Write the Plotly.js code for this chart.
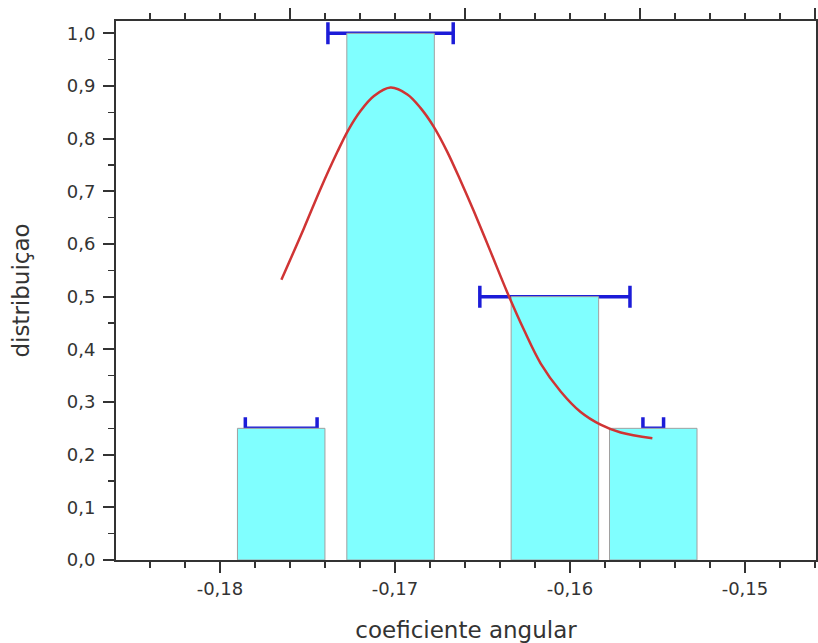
<!DOCTYPE html>
<html>
<head>
<meta charset="utf-8">
<script src="https://cdn.plot.ly/plotly-3.0.1.min.js"></script>
<style>html,body{margin:0;padding:0;background:#fff;}#chart{width:818px;height:643px;}</style>
</head>
<body>
<div id="chart"></div>
<script>
// ---- data ----
const binCenters = [-0.17650, -0.17025, -0.16086, -0.15524];
const binValues  = [0.25, 1.0, 0.5, 0.25];
const errHalfWidth = [0.00205, 0.00358, 0.00429, 0.00059];

const fitX = [-0.17649, -0.17520, -0.17425, -0.17329, -0.17269, -0.17196, -0.17120, -0.17025,
              -0.16929, -0.16853, -0.16777, -0.16701, -0.16625, -0.16549, -0.16453, -0.16358,
              -0.16263, -0.16167, -0.16053, -0.15939, -0.15825, -0.15710, -0.15529];
const fitY = [0.532, 0.630, 0.705, 0.775, 0.815, 0.853, 0.881, 0.897,
              0.884, 0.858, 0.822, 0.775, 0.720, 0.662, 0.585, 0.508,
              0.437, 0.373, 0.320, 0.281, 0.257, 0.242, 0.231];

const xTickVals = [-0.18, -0.17, -0.16, -0.15];
const xTickText = ['-0,18', '-0,17', '-0,16', '-0,15'];
const yTickVals = [0.0, 0.1, 0.2, 0.3, 0.4, 0.5, 0.6, 0.7, 0.8, 0.9, 1.0];
const yTickText = ['0,0', '0,1', '0,2', '0,3', '0,4', '0,5', '0,6', '0,7', '0,8', '0,9', '1,0'];

// ---- chart ----
const XR = [-0.18594, -0.14594];
const YR = [0, 1.0234];
const AX = '#333333';
const FONT = 'DejaVu Sans';

const traces = [
  { // error bars (drawn beneath the bars)
    type: 'scatter', mode: 'markers', xaxis: 'x', yaxis: 'y',
    x: binCenters, y: binValues,
    marker: {size: 1, opacity: 0},
    error_x: {type: 'data', array: errHalfWidth, visible: true, color: '#1c1cd8', thickness: 3.5, width: 11},
    hoverinfo: 'skip', showlegend: false
  },
  {
    type: 'bar', xaxis: 'x2', yaxis: 'y2',
    x: binCenters, y: binValues, width: 0.005,
    marker: {color: '#80ffff', line: {color: '#a0a0a0', width: 1}},
    showlegend: false
  },
  {
    type: 'scatter', mode: 'lines', xaxis: 'x2', yaxis: 'y2',
    x: fitX, y: fitY,
    line: {color: '#d03434', width: 2.5, shape: 'spline', smoothing: 1},
    showlegend: false
  }
];

const baseAxis = {
  showgrid: false, zeroline: false, showline: true, linecolor: AX, linewidth: 2,
  ticks: 'outside', ticklen: 11, tickwidth: 2, tickcolor: AX, automargin: false,
  tickfont: {family: FONT, size: 18, color: AX}
};

const layout = {
  width: 818, height: 643,
  margin: {l: 116, r: 2, t: 21, b: 83, pad: 0},
  paper_bgcolor: '#ffffff', plot_bgcolor: '#ffffff',
  showlegend: false,
  font: {family: FONT, color: AX},
  xaxis: Object.assign({}, baseAxis, {
    range: XR, tickmode: 'array', tickvals: xTickVals, ticktext: xTickText,
    minor: {tick0: -0.18, dtick: 0.002, ticks: 'outside', ticklen: 6, tickwidth: 1.5, tickcolor: AX, showgrid: false},
    title: {text: 'coeficiente angular', font: {family: FONT, size: 23, color: AX}, standoff: 24}
  }),
  yaxis: Object.assign({}, baseAxis, {
    range: YR, tickmode: 'array', tickvals: yTickVals, ticktext: yTickText,
    ticklabelstandoff: 4,
    minor: {tick0: 0, dtick: 0.05, ticks: 'outside', ticklen: 6, tickwidth: 1.5, tickcolor: AX, showgrid: false},
    title: {text: 'distribuiçao', font: {family: FONT, size: 23, color: AX}, standoff: 31}
  }),
  xaxis2: Object.assign({}, baseAxis, {
    range: XR, overlaying: 'x', side: 'top', anchor: 'y2',
    tickmode: 'linear', tick0: -0.176, dtick: 0.01, showticklabels: false,
    minor: {tick0: -0.18, dtick: 0.002, ticks: 'outside', ticklen: 6, tickwidth: 1.5, tickcolor: AX, showgrid: false}
  }),
  yaxis2: Object.assign({}, baseAxis, {
    range: YR, overlaying: 'y', side: 'right', anchor: 'x2',
    tickmode: 'linear', tick0: 0, dtick: 0.0625, ticklen: 5, tickwidth: 1.5, showticklabels: false
  })
};

Plotly.newPlot('chart', traces, layout, {staticPlot: true, displayModeBar: false});
</script>
</body>
</html>
